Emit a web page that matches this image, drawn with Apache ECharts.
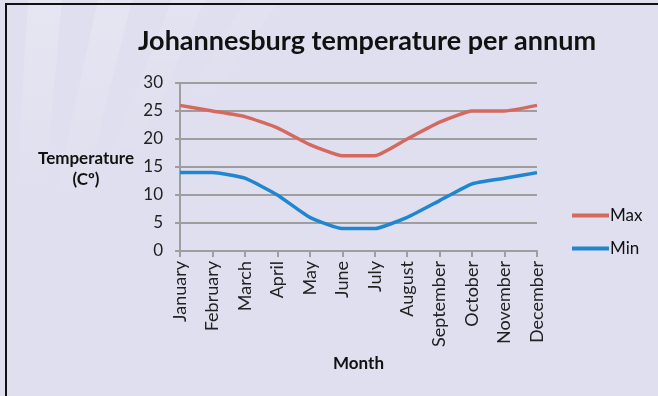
<!DOCTYPE html>
<html>
<head>
<meta charset="utf-8">
<script src="https://cdn.jsdelivr.net/npm/echarts@6/dist/echarts.min.js"></script>
<style>
  html, body { margin: 0; padding: 0; background: #E0DFEF; }
  #chart { width: 658px; height: 396px; }
</style>
</head>
<body>
<div id="chart"></div>
<script>
// Monthly temperature data for Johannesburg (°C)
const months = ['January', 'February', 'March', 'April', 'May', 'June',
                'July', 'August', 'September', 'October', 'November', 'December'];
const maxTemps = [26, 25, 24, 22, 19, 17, 17, 20, 23, 25, 25, 26];
const minTemps = [14, 14, 13, 10, 6, 4, 4, 6, 9, 12, 13, 14];
const yTicks = { min: 0, max: 30, interval: 5 };

const chart = echarts.init(document.getElementById('chart'), null, { renderer: 'canvas' });

const FONT = 'Lato, "Open Sans", sans-serif';

// soft light rays in the upper-left corner of the background, fading downward
function ray(points, opacity) {
  return {
    type: 'polygon', silent: true, z: -10,
    shape: { points: points },
    style: {
      fill: {
        type: 'linear', x: 0, y: 0, x2: 0, y2: 1,
        colorStops: [
          { offset: 0, color: 'rgba(255,255,255,' + opacity + ')' },
          { offset: 1, color: 'rgba(255,255,255,0)' }
        ]
      }
    }
  };
}

chart.setOption({
  backgroundColor: '#E0DFEF',
  animation: false,
  graphic: [
    ray([[28, 0], [62, 0], [44, 200], [16, 200]], 0.2),
    ray([[98, 0], [132, 0], [80, 210], [52, 210]], 0.18),
    ray([[172, 0], [205, 0], [130, 170], [105, 170]], 0.12),
    ray([[245, 0], [280, 0], [195, 120], [175, 120]], 0.08),
    // frame lines on the left and top
    { type: 'line', z: 10, silent: true,
      shape: { x1: 6, y1: 4, x2: 658, y2: 4 },
      style: { stroke: '#111', lineWidth: 2 } },
    { type: 'line', z: 10, silent: true,
      shape: { x1: 6, y1: 3, x2: 6, y2: 396 },
      style: { stroke: '#111', lineWidth: 2 } },
    // y-axis title, two lines
    { type: 'text', x: 86, y: 148, silent: true,
      style: { text: 'Temperature\n(Cº)', font: 'bold 17px ' + FONT,
               fill: '#111', align: 'center', verticalAlign: 'top', lineHeight: 21 } }
  ],
  title: {
    text: 'Johannesburg temperature per annum',
    left: 362, top: 23, textAlign: 'center',
    textStyle: { fontFamily: FONT, fontWeight: 'bold', fontSize: 27, color: '#111' }
  },
  legend: {
    orient: 'vertical',
    left: 567, top: 202,
    itemWidth: 37, itemHeight: 4, itemGap: 16,
    icon: 'rect',
    textStyle: { fontFamily: FONT, fontSize: 17, color: '#111', padding: [0, 0, 0, -4] },
    data: ['Max', 'Min']
  },
  grid: { left: 180, right: 121, top: 83, bottom: 145 },
  xAxis: {
    type: 'category',
    data: months,
    boundaryGap: false,
    name: 'Month',
    nameLocation: 'middle',
    nameGap: 104,
    nameTextStyle: { fontFamily: FONT, fontWeight: 'bold', fontSize: 17, color: '#111' },
    axisLine: { lineStyle: { color: '#9E9E9E', width: 2 } },
    axisTick: { show: true, alignWithLabel: true, length: 6, lineStyle: { color: '#9E9E9E', width: 2 } },
    axisLabel: { rotate: 90, interval: 0, margin: 10, fontFamily: FONT, fontSize: 18, color: '#222' },
    splitLine: { show: false }
  },
  yAxis: {
    type: 'value',
    min: yTicks.min, max: yTicks.max, interval: yTicks.interval,
    axisLine: { show: true, lineStyle: { color: '#9E9E9E', width: 2 } },
    axisTick: { show: true, length: 5, lineStyle: { color: '#9E9E9E', width: 2 } },
    axisLabel: { margin: 17, fontFamily: FONT, fontSize: 17, color: '#222' },
    splitLine: { lineStyle: { color: '#9E9E9E', width: 2 } }
  },
  series: [
    {
      name: 'Max', type: 'line', data: maxTemps,
      smooth: 0.15, symbol: 'none',
      lineStyle: { color: '#D6695F', width: 3.5 },
      itemStyle: { color: '#D6695F' }
    },
    {
      name: 'Min', type: 'line', data: minTemps,
      smooth: 0.15, symbol: 'none',
      lineStyle: { color: '#1F86CF', width: 3.5 },
      itemStyle: { color: '#1F86CF' }
    }
  ]
});
</script>
</body>
</html>
